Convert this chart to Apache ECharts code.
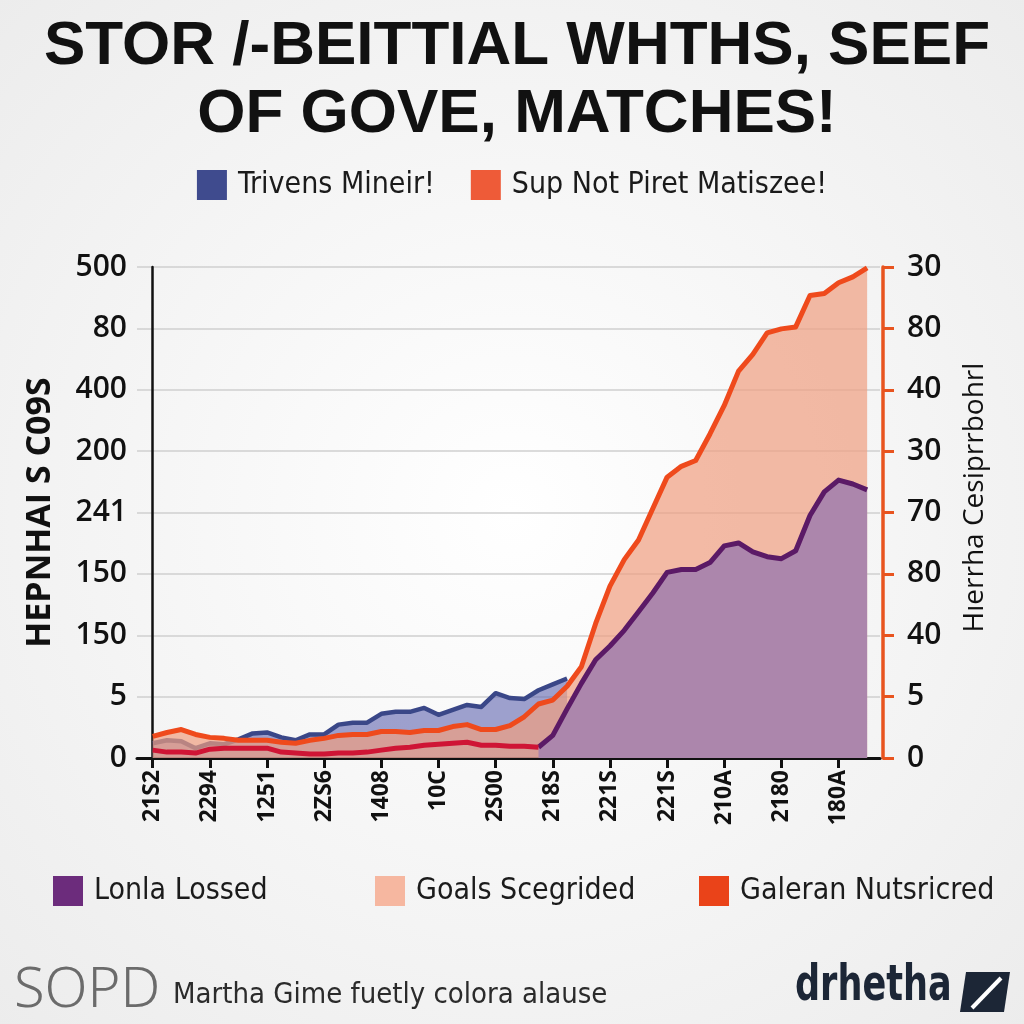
<!DOCTYPE html>
<html>
<head>
<meta charset="utf-8">
<script src="https://cdn.jsdelivr.net/npm/echarts@6/dist/echarts.min.js"></script>
<style>
html,body{margin:0;padding:0;width:1024px;height:1024px;overflow:hidden;background:#f3f3f3;}
#c{width:1024px;height:1024px;}
</style>
</head>
<body>
<div id="c"></div>
<script>
// ---- data ----
const xLabels = ['21S2','2294','1251','2ZS6','1408','10C','2S00','218S','221S','221S','210A','2180','180A'];
const yLeftLabels = ['0','5','150','150','241','200','400','80','500'];
const yRightLabels = ['0','5','40','80','70','30','40','80','30'];

const trivens = [15,18,17,10,15,14,19,25,26,21,18,24,24,34,36,36,45,47,47,51,44,49,54,52,66,61,60,69,75,81,
  null,null,null,null,null,null,null,null,null,null,null,null,null,null,null,null,null,null,null,null,null];
const supNot = [22,26,29,24,21,20,18,18,18,16,15,18,20,23,24,24,27,27,26,28,28,32,34,29,29,33,42,55,59,73,
  93,137,175,202,222,254,286,297,303,330,359,394,411,433,437,439,471,473,484,490,499];
const lonla = [null,null,null,null,null,null,null,null,null,null,null,null,null,null,null,null,null,null,null,null,
  null,null,null,null,null,null,null,11,23,50,76,100,114,130,149,168,189,192,192,199,216,219,210,205,203,211,247,271,283,279,273];
const galeran = [8,6,6,5,9,10,10,10,10,6,5,4,4,5,5,6,8,10,11,13,14,15,16,13,13,12,12,11,
  null,null,null,null,null,null,null,null,null,null,null,null,null,null,null,null,null,null,null,null,null,null,null];

const seriesNames = {
  trivens: 'Trivens Mineir!',
  supNot: 'Sup Not Piret Matiszee!',
  lonla: 'Lonla Lossed',
  goals: 'Goals Scegrided',
  galeran: 'Galeran Nutsricred'
};

function pairs(arr){ const out=[]; arr.forEach((v,i)=>{ if(v!==null) out.push([i,v]); }); return out; }

const COND = "'DejaVu Sans Condensed','Liberation Sans',sans-serif";
const SANS = "'Open Sans','DejaVu Sans',sans-serif";
const STEP = 62.5;

const chart = echarts.init(document.getElementById('c'), null, {renderer:'canvas'});
const legendText = {fontFamily: COND, fontSize: 30, color: '#1b1b1b', padding:[0,0,0,6]};

const option = {
  backgroundColor: {type:'radial', x:0.5, y:0.5, r:0.75,
    colorStops:[{offset:0,color:'#ffffff'},{offset:1,color:'#ebebeb'}]},
  animation: false,
  title: {
    text: 'STOR /-BEITTIAL WHTHS, SEEF\nOF GOVE, MATCHES!',
    left: 512, top: 8,
    textAlign: 'center',
    textStyle: {fontFamily: "'Liberation Sans',Arial,sans-serif", fontWeight: 'bold', fontSize: 62, lineHeight: 68, color: '#111'}
  },
  legend: [
    {data:[{name:seriesNames.trivens, itemStyle:{color:'#3f4b8e'}},{name:seriesNames.supNot, itemStyle:{color:'#ee5b38'}}],
     top: 165, left: 'center', itemWidth: 30, itemHeight: 30, itemGap: 36, icon:'rect', textStyle: legendText},
    {data:[{name:seriesNames.lonla, itemStyle:{color:'#6c2c7c'}}],
     top: 871, left: 48, itemWidth: 30, itemHeight: 30, icon:'rect', textStyle: legendText},
    {data:[{name:seriesNames.goals, itemStyle:{color:'#f6b7a0'}}],
     top: 871, left: 370, itemWidth: 30, itemHeight: 30, icon:'rect', textStyle: legendText},
    {data:[{name:seriesNames.galeran, itemStyle:{color:'#ea4319'}}],
     top: 871, left: 694, itemWidth: 30, itemHeight: 30, icon:'rect', textStyle: legendText}
  ],
  grid: {left: 137, right: 144, top: 267, bottom: 266, containLabel: false},
  xAxis: {
    type: 'value', min: -1.1, max: 50.9,
    axisLine: {show: true, lineStyle: {color: '#111', width: 3}},
    axisTick: {show: true, length: 10, lineStyle: {color:'#111', width: 3},
      customValues: xLabels.map((_, k) => k * 4)},
    axisLabel: {customValues: xLabels.map((_, k) => k * 4), rotate: 90, margin: 12,
      fontFamily: SANS, fontWeight: 'bold', fontSize: 23, color: '#111',
      formatter: v => xLabels[Math.round(v / 4)] || ''},
    splitLine: {show: false}
  },
  yAxis: [
    {type: 'value', min: 0, max: 500, interval: STEP, position: 'left',
     name: 'HEPNHAI S C09S', nameLocation: 'middle', nameGap: 80, nameRotate: 90,
     nameTextStyle: {fontFamily: SANS, fontWeight: 'bold', fontSize: 34, color: '#111'},
     axisLine: {show: true, lineStyle: {color:'#111', width: 2.5}},
     axisTick: {show: false},
     axisLabel: {margin: 10, fontFamily: SANS, fontWeight: 600, fontSize: 30, color: '#111',
       formatter: v => yLeftLabels[Math.round(v / STEP)]},
     splitLine: {show: true, lineStyle: {color: '#cfcfcf', width: 1.6}}
    },
    {type: 'value', min: 0, max: 500, interval: STEP, position: 'right', offset: 3,
     name: 'Hıerrha Cesiprrbohrl', nameLocation: 'middle', nameGap: 78, nameRotate: 90,
     nameTextStyle: {fontFamily: SANS, fontWeight: 500, fontSize: 28, color: '#111', padding: [0, 0, 0, 30]},
     axisLine: {show: true, lineStyle: {color:'#e8541f', width: 3.5}},
     axisTick: {show: true, inside: false, length: 11, lineStyle: {color:'#e8541f', width: 3}},
     axisLabel: {margin: 24, fontFamily: SANS, fontWeight: 600, fontSize: 30, color: '#111',
       formatter: v => yRightLabels[Math.round(v / STEP)]},
     splitLine: {show: false}
    }
  ],
  series: [
    {name: seriesNames.trivens, type: 'line', z: 1, data: pairs(trivens), showSymbol: false,
     lineStyle: {color: '#3a4788', width: 4.5, join: 'round'},
     itemStyle: {color: '#3f4b8e'},
     areaStyle: {color: 'rgba(95,100,175,0.6)', opacity: 1}},
    {name: seriesNames.goals, type: 'line', z: 2, data: pairs(supNot), showSymbol: false,
     lineStyle: {width: 0, opacity: 0},
     itemStyle: {color: '#f6b7a0'},
     areaStyle: {color: 'rgba(240,158,128,0.7)', opacity: 1}},
    {name: seriesNames.lonla, type: 'line', z: 3, data: pairs(lonla), showSymbol: false,
     lineStyle: {color: '#5b1a66', width: 5, join: 'round'},
     itemStyle: {color: '#6c2c7c'},
     areaStyle: {color: '#ac86ac', opacity: 1}},
    {name: seriesNames.galeran, type: 'line', z: 4, data: pairs(galeran), showSymbol: false,
     lineStyle: {color: '#cf1535', width: 5, join: 'round'},
     itemStyle: {color: '#ea4319'}},
    {name: seriesNames.supNot, type: 'line', z: 5, data: pairs(supNot), showSymbol: false,
     lineStyle: {color: '#ef4a1c', width: 5, join: 'round'},
     itemStyle: {color: '#ee5b38'}}
  ],
  graphic: [
    {type: 'text', left: 14, top: 963, style: {text: 'SOPD', fontFamily: "'Noto Sans','DejaVu Sans',sans-serif", fontWeight: 300, fontSize: 56, fill: '#6b6b6b'}},
    {type: 'text', left: 173, top: 981, style: {text: 'Martha Gime fuetly colora alause', fontFamily: COND, fontSize: 29, fill: '#2b2b2b'}},
    {type: 'text', x: 795, y: 962, scaleX: 0.78, style: {text: 'drhetha', fontFamily: COND, fontWeight: 'bold', fontSize: 50, fill: '#1c2636'}},
    {type: 'polygon', shape: {points: [[966,972],[1010,972],[1004,1012],[960,1012]]}, style: {fill: '#1c2636'}},
    {type: 'line', shape: {x1: 972, y1: 1008, x2: 1001, y2: 978}, style: {stroke: '#ffffff', lineWidth: 4}}
  ]
};
chart.setOption(option);
</script>
</body>
</html>
